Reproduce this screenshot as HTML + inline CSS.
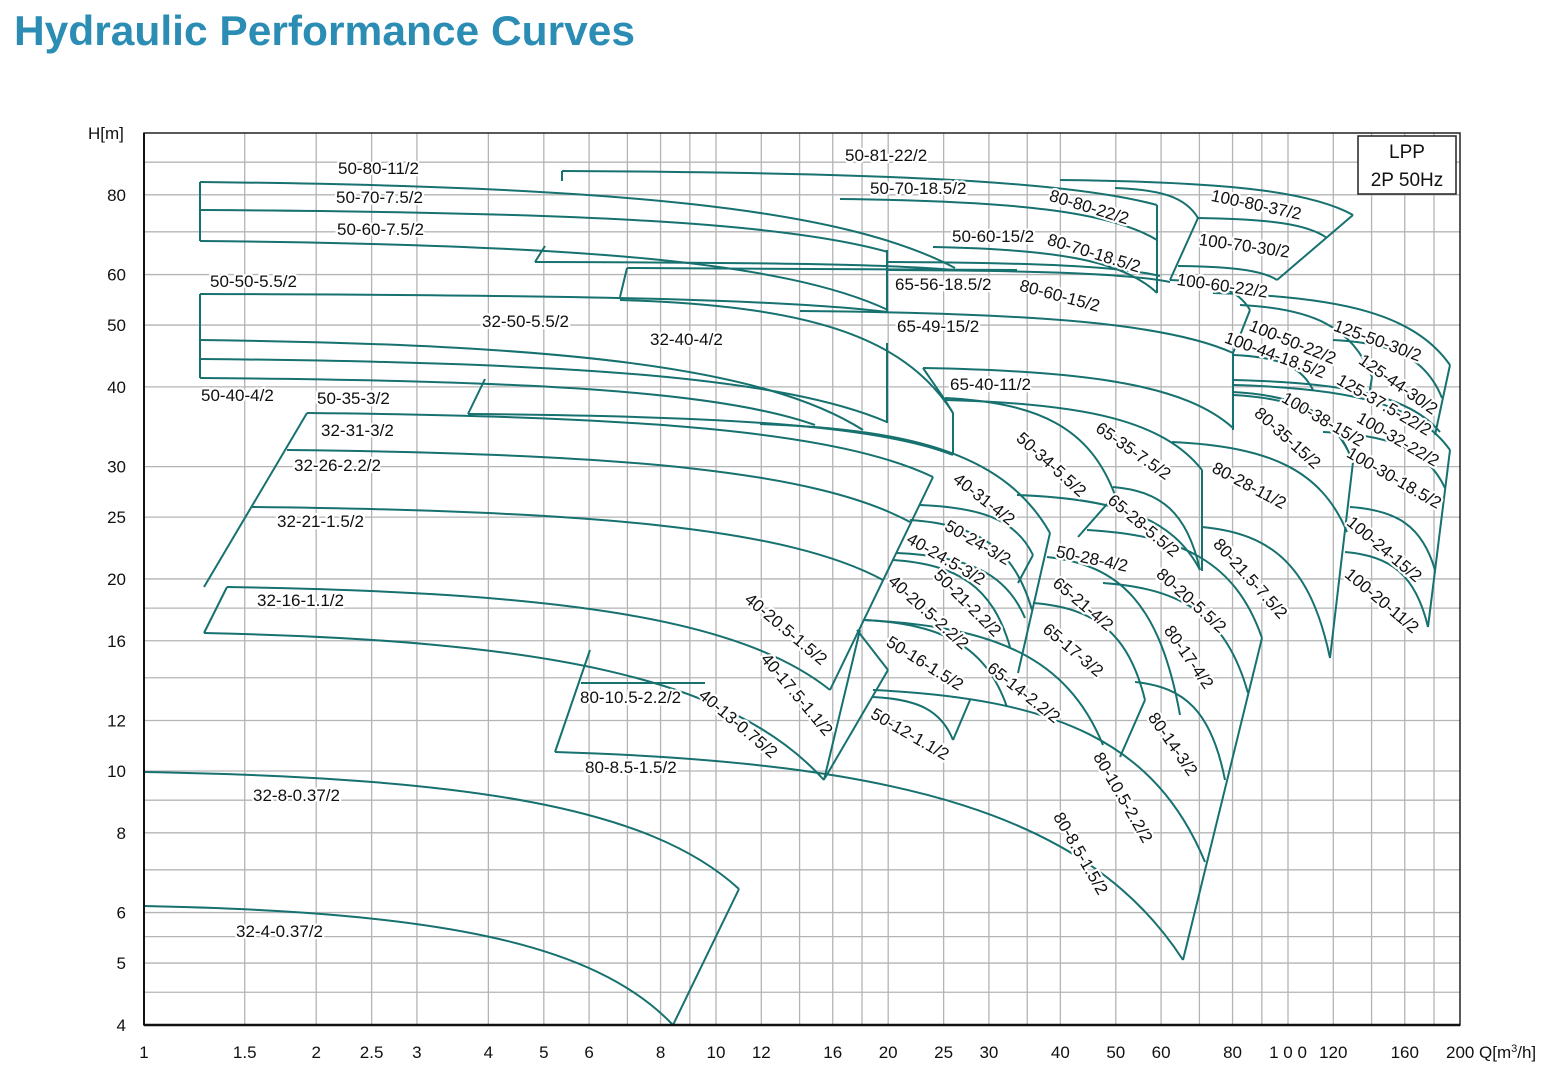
<!DOCTYPE html>
<html><head><meta charset="utf-8"><style>
html,body{margin:0;padding:0;background:#fff;}
svg{display:block;}
text{font-family:"Liberation Sans",Arial,sans-serif;}
</style></head><body>
<svg id="s" width="1554" height="1076" viewBox="0 0 1554 1076" xmlns="http://www.w3.org/2000/svg">
<rect width="1554" height="1076" fill="#fff"/>
<text x="14" y="45" font-size="42" font-weight="bold" fill="#2b8db4" textLength="621" lengthAdjust="spacingAndGlyphs">Hydraulic Performance Curves</text>
<g id="grid" stroke="#b4b4b4" stroke-width="1.3"></g>
<g id="curves" fill="none" stroke="#16716f" stroke-width="2" stroke-linejoin="round"></g>
<g id="labels" font-size="17" fill="#111" stroke="#fff" stroke-width="4.5" paint-order="stroke" stroke-linejoin="round"></g>
<g id="axes"></g>
<rect x="1358" y="136" width="98" height="58" fill="#fff" stroke="#222" stroke-width="1.5"/>
<text x="1407" y="158" font-size="19" text-anchor="middle" fill="#111">LPP</text>
<text x="1407" y="186" font-size="19" text-anchor="middle" fill="#111">2P 50Hz</text>
</svg>
<script>
var NS="http://www.w3.org/2000/svg";
function el(p,t,a,txt){var e=document.createElementNS(NS,t);for(var k in a)e.setAttribute(k,a[k]);if(txt!==undefined)e.textContent=txt;document.getElementById(p).appendChild(e);return e;}
function X(v){return 144+572*Math.log10(v);}
function Y(v){return 771-638*Math.log10(v/10);}
var L=144,R=1460,T=133,B=1025;
[1.5,2,2.5,3,4,5,6,7,8,9,10,12,14,16,18,20,25,30,35,40,50,60,70,80,90,100,120,140,160,180].forEach(function(v){var x=X(v);el("grid","line",{x1:x,y1:T,x2:x,y2:B});});
[4.5,5,5.5,6,7,8,9,10,12,14,16,18,20,25,30,40,50,60,70,80,90].forEach(function(v){var y=Y(v);el("grid","line",{x1:L,y1:y,x2:R,y2:y});});
el("axes","rect",{x:L,y:T,width:R-L,height:B-T,fill:"none",stroke:"#222","stroke-width":1.5});
el("axes","line",{x1:L,y1:B,x2:R,y2:B,stroke:"#111","stroke-width":2.5});
el("axes","line",{x1:L,y1:T,x2:L,y2:B,stroke:"#111","stroke-width":2});
[[1,"1"],[1.5,"1.5"],[2,"2"],[2.5,"2.5"],[3,"3"],[4,"4"],[5,"5"],[6,"6"],[8,"8"],[10,"10"],[12,"12"],[16,"16"],[20,"20"],[25,"25"],[30,"30"],[40,"40"],[50,"50"],[60,"60"],[80,"80"],[100,"1 0 0"],[120,"120"],[160,"160"],[200,"200"]].forEach(function(a){el("axes","text",{x:X(a[0]),y:1058,"font-size":17,"text-anchor":"middle",fill:"#111"},a[1]);});
[80,60,50,40,30,25,20,16,12,10,8,6,5,4].forEach(function(v){el("axes","text",{x:126,y:Y(v)+6,"font-size":17,"text-anchor":"end",fill:"#111"},String(v));});
el("axes","text",{x:88,y:139,"font-size":17,fill:"#111"},"H[m]");
var q=el("axes","text",{x:1479,y:1058,"font-size":17,fill:"#111"},"Q[m");
var ts=document.createElementNS(NS,"tspan");ts.setAttribute("dy","-6");ts.setAttribute("font-size","11");ts.textContent="3";q.appendChild(ts);
var ts2=document.createElementNS(NS,"tspan");ts2.setAttribute("dy","6");ts2.textContent="/h]";q.appendChild(ts2);
function c(x1,y1,x2,y2){var dx=x2-x1,dy=y2-y1;el("curves","path",{d:"M"+x1+" "+y1+" C"+(x1+0.55*dx)+" "+(y1+0.05*dy)+" "+(x1+0.85*dx)+" "+(y1+0.3*dy)+" "+x2+" "+y2});}
function l(x1,y1,x2,y2){el("curves","line",{x1:x1,y1:y1,x2:x2,y2:y2});}
c(200,182,955,268);c(200,210,888,252);c(200,241,888,310);l(200,182,200,241);
l(545,246,535,262);c(535,262,955,270);
l(562,171,562,181);c(562,171,1157,205);
c(840,199,1157,240);c(933,247,1157,293);l(1157,205,1157,293);
c(887,262,1160,276);c(887,270,1170,282);l(887,250,887,312);
c(800,311,1233,353);l(1233,353,1233,430);l(1233,353,1250,310);c(1170,280,1250,310);
l(627,268,620,297);l(627,268,1017,270);
c(1060,180,1353,215);c(1115,188,1198,218);
c(1198,218,1327,238);l(1353,215,1277,280);c(1178,266,1277,280);l(1198,218,1170,280);
c(1213,293,1450,365);l(1450,365,1435,435);
c(1240,305,1372,377);l(1372,377,1368,402);
c(1333,340,1442,398);
c(1233,355,1313,390);
c(1233,380,1440,432);
c(1233,395,1353,462);
c(1233,385,1450,450);l(1450,450,1428,627);
c(1323,432,1445,488);
c(1233,392,1353,462);l(1353,462,1330,658);
c(1172,442,1347,532);
c(1350,507,1435,570);
c(1345,552,1428,627);
c(1202,527,1330,658);
c(945,400,1202,470);l(1202,470,1202,571);
c(923,368,1233,428);l(923,368,945,400);l(945,400,953,413);l(953,413,953,453);
c(1087,530,1262,638);l(1262,638,1183,960);
c(1103,583,1248,693);
c(1047,557,1180,715);
c(1033,603,1145,700);l(1145,700,1120,757);
c(1135,682,1225,780);
c(863,620,1103,745);
c(873,690,1205,862);
c(555,752,1183,960);
c(1017,495,1200,570);
c(945,398,1115,495);l(1115,495,1078,537);
c(1113,487,1200,570);
c(760,424,1050,533);l(1050,533,1018,673);
c(920,505,1033,555);l(1033,555,1018,583);
c(910,520,1032,610);
c(897,553,1025,618);
c(893,560,1010,647);
c(865,620,1007,707);
c(873,697,953,740);l(953,740,970,700);
l(857,630,888,670);l(888,670,825,778);
c(200,294,887,312);c(620,300,953,413);c(200,340,863,430);c(200,359,887,422);c(200,378,815,425);
l(200,294,200,378);l(887,343,887,423);
l(485,379,468,414);c(468,414,953,455);
c(307,413,933,477);l(307,413,204,587);l(933,477,830,690);
c(287,450,910,522);c(252,507,883,580);
c(227,587,830,690);l(227,587,204,633);c(204,633,824,780);l(824,780,860,630);
l(590,650,555,752);l(581,683,705,683);
c(144,772,739,889);l(739,889,673,1025);c(144,906,673,1025);
function t(s,x,y,a){el("labels","text",{transform:"translate("+x+","+y+") rotate("+(a||0)+")",x:0,y:13},s);}
[["50-80-11/2",338,161],["50-70-7.5/2",336,190],["50-60-7.5/2",337,222],["50-50-5.5/2",210,274],["32-50-5.5/2",482,314],["32-40-4/2",650,332],["50-40-4/2",201,388],["50-35-3/2",317,391],["32-31-3/2",321,423],["32-26-2.2/2",294,458],["32-21-1.5/2",277,514],["32-16-1.1/2",257,593],["80-10.5-2.2/2",580,690],["80-8.5-1.5/2",585,760],["32-8-0.37/2",253,788],["32-4-0.37/2",236,924],["50-81-22/2",845,148],["50-70-18.5/2",870,181],["50-60-15/2",952,229],["65-56-18.5/2",895,277],["65-49-15/2",897,319],["65-40-11/2",950,377]].forEach(function(a){t(a[0],a[1],a[2],0);});
[["80-80-22/2",1052,188,17],["80-70-18.5/2",1050,232,17],["80-60-15/2",1022,278,15],["100-80-37/2",1213,188,12],["100-70-30/2",1200,232,8],["100-60-22/2",1178,272,8],["100-50-22/2",1253,318,22],["100-44-18.5/2",1228,330,20],["125-50-30/2",1337,318,20],["125-44-30/2",1365,352,35],["125-37.5-22/2",1342,372,30],["100-38-15/2",1287,390,30],["100-32-22/2",1362,410,30],["80-35-15/2",1262,405,42],["100-30-18.5/2",1352,445,30],["65-35-7.5/2",1102,420,35],["50-34-5.5/2",1024,430,42],["80-28-11/2",1217,460,28],["40-31-4/2",960,471,38],["65-28-5.5/2",1115,492,40],["50-24-3/2",950,518,30],["100-24-15/2",1354,514,40],["50-28-4/2",1058,544,12],["40-24.5-3/2",912,531,30],["80-21.5-7.5/2",1222,536,48],["80-20-5.5/2",1164,566,42],["50-21-2.2/2",942,567,45],["100-20-11/2",1352,566,40],["40-20.5-2.2/2",896,573,42],["65-21-4/2",1060,575,40],["40-20.5-1.5/2",752,591,40],["65-17-3/2",1050,621,40],["80-17-4/2",1174,623,55],["50-16-1.5/2",892,634,32],["65-14-2.2/2",994,660,38],["40-17.5-1.1/2",770,651,50],["40-13-0.75/2",706,687,40],["50-12-1.1/2",876,706,30],["80-14-3/2",1158,710,55],["80-10.5-2.2/2",1104,750,60],["80-8.5-1.5/2",1064,810,60]].forEach(function(a){t(a[0],a[1],a[2],a[3]);});
</script>
</body></html>
